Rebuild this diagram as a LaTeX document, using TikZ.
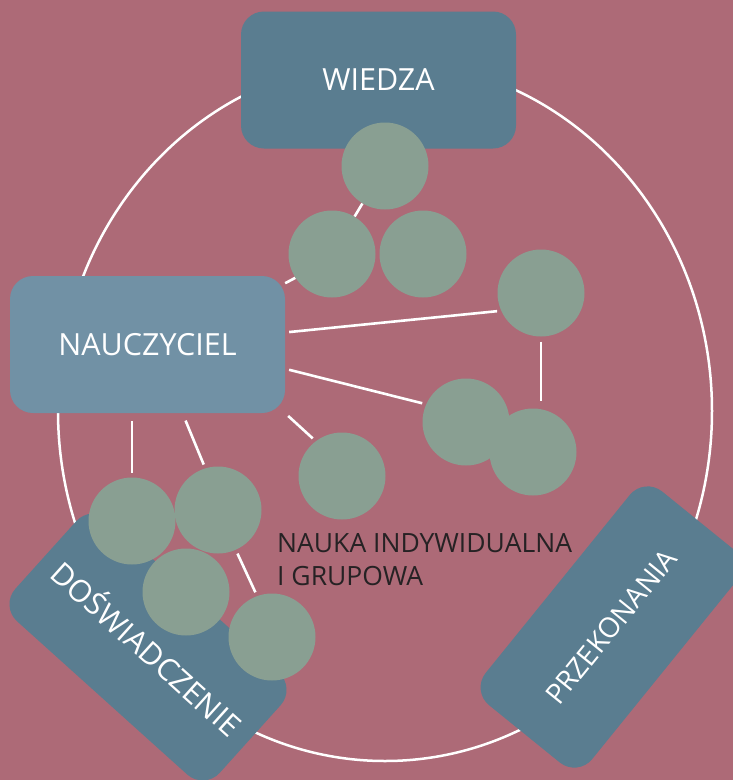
\documentclass[tikz,border=0pt]{standalone}
\usepackage{fontspec}
\setmainfont{Open Sans}
\usetikzlibrary{positioning, calc}
\definecolor{bgmauve}{HTML}{AD6A77}
\definecolor{boxteal}{HTML}{5A7D90}
\definecolor{boxlight}{HTML}{7191A5}
\definecolor{dotgreen}{HTML}{899F92}
\definecolor{textdark}{HTML}{262224}

\begin{document}
\begin{tikzpicture}[
    x=1pt, y=-1pt,
    % styles
    pillar_box/.style={
        fill=boxteal, rounded corners=23pt, minimum width=275pt, minimum height=137pt,
        inner sep=0pt, text=white, font=\fontsize{30.5}{36}\selectfont
    },
    teacher_box/.style={
        pillar_box, fill=boxlight
    },
    learner_dot/.style={
        circle, minimum size=87pt, inner sep=0pt
    },
    ring/.style={
        draw=white, line width=2.5pt
    },
    link/.style={
        draw=white, line width=2.6pt, shorten <=4pt, shorten >=4pt
    },
    label_text/.style={
        text=textdark, align=left, inner sep=0pt, font=\fontsize{26.5}{33}\selectfont
    }
]

    % --- 1. BACKGROUND & RING ---
    \fill[bgmauve] (0,0) rectangle (733,780);
    \useasboundingbox (0,0) rectangle (733,780);
    \draw[ring] (385,411) ellipse [x radius=327pt, y radius=350pt];

    % --- 2. FOUR BOXES ---
    \node[pillar_box] (wiedza) at (378.5,80) {WIEDZA};
    \node[teacher_box] (nauczyciel) at (147.5,344.5) {NAUCZYCIEL};
    \node[pillar_box, rotate=-42] (doswiadczenie) at (148,647) {DOŚWIADCZENIE};
    \node[pillar_box, rotate=51, font=\fontsize{28}{34}\selectfont] (przekonania) at (611,627) {PRZEKONANIA};

    % --- 3. LEARNERS (circles) ---
    % top group
    \coordinate (w1c) at (385,166);
    \coordinate (w2c) at (332,254);
    \coordinate (w3c) at (423,254);
    % right group
    \coordinate (p1c) at (541,293);
    \coordinate (p2c) at (466,422);
    \coordinate (p3c) at (533,452);
    % lower group
    \coordinate (n1c) at (342,476);
    \coordinate (d1c) at (132,521);
    \coordinate (d2c) at (218,510);
    \coordinate (d3c) at (186,592);
    \coordinate (d4c) at (272,637);

    \foreach \dot in {w1,w2,w3,p1,p2,p3,n1,d1,d2,d3,d4}{
        \node[learner_dot] (\dot) at (\dot c) {};
    }

    % --- 4. LINKS ---
    \draw[link, shorten <=0pt, shorten >=0pt] (w1) -- (w2);
    \draw[link, shorten <=0pt, shorten >=0pt] (nauczyciel.24) -- (w2.213);
    \draw[link] (nauczyciel.5) -- (p1.204);
    \draw[link] (nauczyciel.-10) -- (p2.156);
    \draw[link] (nauczyciel.south east) -- (n1.127);
    \draw[link, shorten <=8pt] (nauczyciel.south -| d1) -- (d1.north);
    \draw[link, shorten <=8pt] (nauczyciel.-63) -- (d2.107);
    \draw[link] (d2.-66) -- (d4.110);
    \draw[link, shorten <=5pt, shorten >=7pt] (p1.south) -- (p1.south |- p3.north);

    % circles on top of the links
    \foreach \dot in {w1,w2,w3,p1,p2,p3,n1,d1,d2,d3,d4}{
        \fill[dotgreen] (\dot c) circle (43.5pt);
    }

    % --- 5. CENTRAL LABEL ---
    \node[label_text, anchor=base west] (nauka) at (277,585) {NAUKA INDYWIDUALNA\\I GRUPOWA};

\end{tikzpicture}
\end{document}
